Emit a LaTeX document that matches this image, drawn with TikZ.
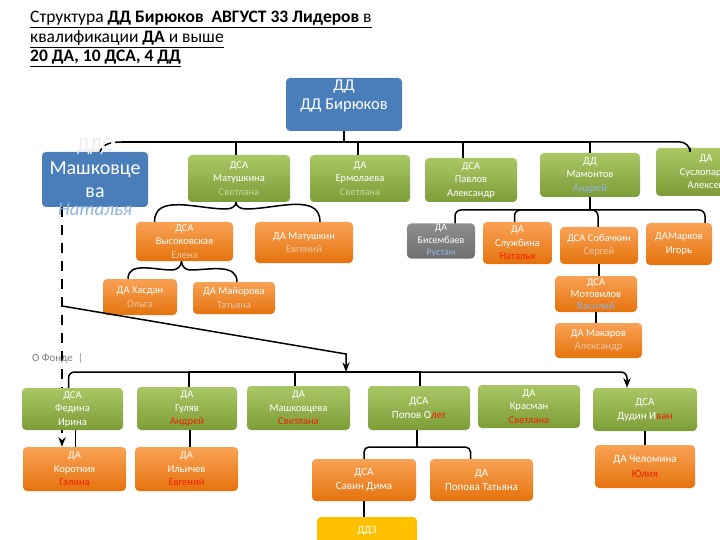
\documentclass[tikz,border=0pt]{standalone}
\usepackage{fontspec}
\setmainfont{Carlito}
\usepackage{xcolor}
\usetikzlibrary{arrows.meta,positioning,calc,backgrounds}

\definecolor{grtop}{HTML}{AAC766}
\definecolor{grbot}{HTML}{7D9D38}
\definecolor{ortop}{HTML}{F9A255}
\definecolor{orbot}{HTML}{E5730D}
\definecolor{bossblue}{HTML}{4A7EBB}
\definecolor{gytop}{HTML}{8E8E8E}
\definecolor{gybot}{HTML}{6F6F6F}
\definecolor{ddzyellow}{HTML}{FFC000}
\definecolor{namegreen}{HTML}{C3D79B}
\definecolor{namepale}{HTML}{EDC7A6}
\definecolor{nameblue}{HTML}{8DB4E2}
\definecolor{namered}{HTML}{F22000}

\newcommand{\nmgreen}[1]{\textcolor{namegreen}{#1}}
\newcommand{\nmpale}[1]{\textcolor{namepale}{#1}}
\newcommand{\nmblue}[1]{\textcolor{nameblue}{#1}}
\newcommand{\nmred}[1]{\textcolor{namered}{#1}}

\begin{document}
\begin{tikzpicture}[x=1pt,y=-1pt,
  box/.style={rounded corners=4pt, align=center, text=white, inner sep=1pt,
    font=\fontsize{10.5}{13.5}\selectfont},
  gbox/.style={box, top color=grtop, bottom color=grbot},
  obox/.style={box, top color=ortop, bottom color=orbot},
  conn/.style={line width=1.5pt, black},
  ttl/.style={anchor=base west, inner sep=0pt, font=\fontsize{17.5}{19}\selectfont}]
  \useasboundingbox (0,0) rectangle (720,540);
  \clip (0,0) rectangle (720,540);

  % heading
  \node[ttl] (title1) at (30,23) {\underline{Структура \textbf{ДД Бирюков\ \ АВГУСТ 33 Лидеров} в}};
  \node[ttl] (title2) at (30,42.5) {\underline{квалификации \textbf{ДА} и выше}};
  \node[ttl] (title3) at (30,62) {\underline{\textbf{20 ДА, 10 ДСА, 4 ДД}}};
  \node[anchor=west, inner sep=0pt, text=gray, font=\fontsize{11}{12}\selectfont] (fond) at (32,358) {О Фонде\ \ |};

  % top level
  \node[box, fill=bossblue, minimum width=116, minimum height=53,
    font=\fontsize{16.5}{19}\selectfont] (boss) at (344,104.5) {ДД\\ДД Бирюков\\[-6pt]\strut};
  \node[box, fill=bossblue, minimum width=106, minimum height=55,
    font=\fontsize{20}{23}\selectfont,
    label={[label distance=-6pt, text=gray!15, font=\fontsize{20}{20}\selectfont]above:ДДС},
    label={[label distance=-7pt, text=nameblue, font=\fontsize{19}{20}\selectfont\itshape]below:Наталья}]
    (mashk) at (95,179.5) {Машковце\\ва};

  % second row
  \node[gbox, minimum width=102, minimum height=47] (matushkina) at (239,178.5) {ДСА\\Матушкина\\\nmgreen{Светлана}};
  \node[gbox, minimum width=100, minimum height=47] (ermolaeva) at (360,178.5) {ДА\\Ермолаева\\\nmgreen{Светлана}};
  \node[gbox, minimum width=92, minimum height=44] (pavlov) at (471,180) {ДСА\\Павлов\\Александр};
  \node[gbox, minimum width=100, minimum height=44] (mamontov) at (590,175) {ДД\\Мамонтов\\\nmblue{Андрей}};
  \node[gbox, minimum width=100, minimum height=48] (suslo) at (706,172) {ДА\\Суслопаров\\Алексей};

  % branch of Матушкина
  \node[obox, minimum width=97, minimum height=39] (vysok) at (184.5,241.5) {ДСА\\Высоковская\\\nmpale{Елена}};
  \node[obox, minimum width=98, minimum height=41] (matushkin) at (304,242.5) {ДА Матушкин\\\nmpale{Евгений}};
  \node[obox, minimum width=74, minimum height=36] (hasdan) at (140,297) {ДА Хасдан\\\nmpale{Ольга}};
  \node[obox, minimum width=82, minimum height=32] (mayorova) at (234,298) {ДА Майорова\\\nmpale{Татьяна}};

  % branch of Мамонтов
  \node[box, top color=gytop, bottom color=gybot, minimum width=68, minimum height=34,
    font=\fontsize{10}{12.5}\selectfont] (bisemb) at (441,241) {ДА\\Бисембаев\\\nmblue{Рустам}};
  \node[obox, minimum width=69, minimum height=42] (sluzh) at (517.5,243) {ДА\\Службина\\\nmred{Наталья}};
  \node[obox, minimum width=78, minimum height=37] (sobach) at (599,245.5) {ДСА Собачкин\\\nmpale{Сергей}};
  \node[obox, minimum width=66, minimum height=42] (markov) at (679,244) {ДАМарков\\Игорь};
  \node[obox, minimum width=82, minimum height=36, font=\fontsize{10.5}{12}\selectfont] (motov) at (596,294) {ДСА\\Мотовилов\\\nmblue{Василий}};
  \node[obox, minimum width=87, minimum height=35] (makarov) at (598.5,340.5) {ДА Макаров\\\nmpale{Александр}};

  % bottom group
  \node[gbox, minimum width=101, minimum height=42] (fedina) at (72.5,409) {ДСА\\Федина\\Ирина};
  \node[gbox, minimum width=100, minimum height=43] (gulyav) at (187,408.5) {ДА\\Гуляв\\\nmred{Андрей}};
  \node[gbox, minimum width=103, minimum height=44] (mashktwo) at (298.5,408) {ДА\\Машковцева\\\nmred{Светлана}};
  \node[gbox, minimum width=102, minimum height=44, font=\fontsize{11}{14}\selectfont] (popov) at (419,408) {ДСА\\Попов О\nmred{лег}};
  \node[gbox, minimum width=102, minimum height=43] (krasman) at (529,406.5) {ДА\\Красман\\\nmred{Светлана}};
  \node[gbox, minimum width=104, minimum height=43, font=\fontsize{11}{14}\selectfont] (dudin) at (645,409.5) {ДСА\\Дудин И\nmred{ван}};

  \node[obox, minimum width=103, minimum height=44] (korotkih) at (74.5,469) {ДА\\Коротких\\\nmred{Галина}};
  \node[obox, minimum width=103, minimum height=44] (ilyichev) at (186.5,469) {ДА\\Ильичев\\\nmred{Евгений}};
  \node[obox, minimum width=104, minimum height=42, font=\fontsize{11}{14}\selectfont] (savin) at (364,480) {ДСА\\Савин Дима};
  \node[obox, minimum width=103, minimum height=42, font=\fontsize{11}{14}\selectfont] (popova) at (481.5,480) {ДА\\Попова Татьяна};
  \node[obox, minimum width=100, minimum height=43, font=\fontsize{11}{15}\selectfont] (chelomina) at (645,466.5) {ДА Челомина\\\nmred{Юлия}};
  \node[box, fill=ddzyellow, minimum width=100, minimum height=44,
    font=\fontsize{11}{14}\selectfont] (ddz) at (367,539) {ДДЗ\\\strut};

  % connectors, top
  \coordinate (b0) at (344,142);
  \coordinate (bl) at (122,142);
  \draw[conn] (boss) -- (b0);
  \draw[conn] (bl) -- (b0);
  \foreach \n/\dx in {matushkina/-3, ermolaeva/-2, pavlov/-8, mamontov/0}
    \draw[conn] ([xshift=\dx]\n.north) |- (b0);
  \draw[conn, rounded corners=10pt] (b0) -| ([xshift=-16]suslo.north);
  \draw[conn, dash pattern=on 7pt off 4pt] (bl) to[out=180,in=70] ([xshift=5]mashk.north);

  % braces
  \draw[conn] ([xshift=-30]vysok.north) to[out=90,in=180] (226,209) to[out=0,in=-90] ([xshift=-3]matushkina.south);
  \draw[conn] ([xshift=16]matushkin.north) to[out=90,in=0] (246,209) to[out=180,in=-90] ([xshift=-3]matushkina.south);
  \draw[conn] ([xshift=-12]hasdan.north) to[out=90,in=180] (172,270) to[out=0,in=-90] ([xshift=-3]vysok.south);
  \draw[conn] ([xshift=3]mayorova.north) to[out=90,in=0] (190,270) to[out=180,in=-90] ([xshift=-3]vysok.south);

  % Мамонтов
  \coordinate (m0) at (590,210);
  \draw[conn] (mamontov) -- (m0);
  \foreach \n/\dx in {bisemb/14, sluzh/-3, sobach/-1, markov/26}
    \draw[conn, rounded corners=6pt] ([xshift=\dx]\n.north) |- (m0);
  \draw[conn] (sobach.south) -- (sobach.south |- motov.north);
  \draw[conn] (motov.south) -- (motov.south |- makarov.north);

  % bottom group
  \coordinate (d0) at (62,306);
  \coordinate (b2) at (346,372);
  \draw[conn, -{Stealth}] (d0) -- (346,354) -- (b2);
  \draw[conn, rounded corners=6pt] ([xshift=-4]fedina.north) |- (b2);
  \foreach \n/\dx in {gulyav/2, mashktwo/-3.5, popov/1}
    \draw[conn] ([xshift=\dx]\n.north) |- (b2);
  \draw[conn, rounded corners=6pt, -{Stealth}] (b2) -| ([xshift=-18]dudin.north);
  \draw[conn] ([xshift=3]fedina.south) -- ([xshift=3]fedina.south |- korotkih.north);
  \draw[conn] ([xshift=3]gulyav.south) -- ([xshift=3]gulyav.south |- ilyichev.north);
  \coordinate (p0) at (417,447);
  \draw[conn] ([xshift=-2]popov.south) -- (p0);
  \draw[conn, rounded corners=5pt] (savin.north) |- (p0);
  \draw[conn, rounded corners=5pt] ([xshift=-11]popova.north) |- (p0);
  \draw[conn] (savin.south) -- (savin.south |- ddz.north);
  \draw[conn] (dudin.south) -- (dudin.south |- chelomina.north);

  \begin{pgfonlayer}{background}
    \fill[white] (0,0) rectangle (720,540);
    \draw[conn, dash pattern=on 10pt off 8pt, -{Stealth}] ([xshift=-33]mashk.south)
      -- ([xshift=-33]mashk.south |- korotkih.north);
  \end{pgfonlayer}
\end{tikzpicture}
\end{document}
